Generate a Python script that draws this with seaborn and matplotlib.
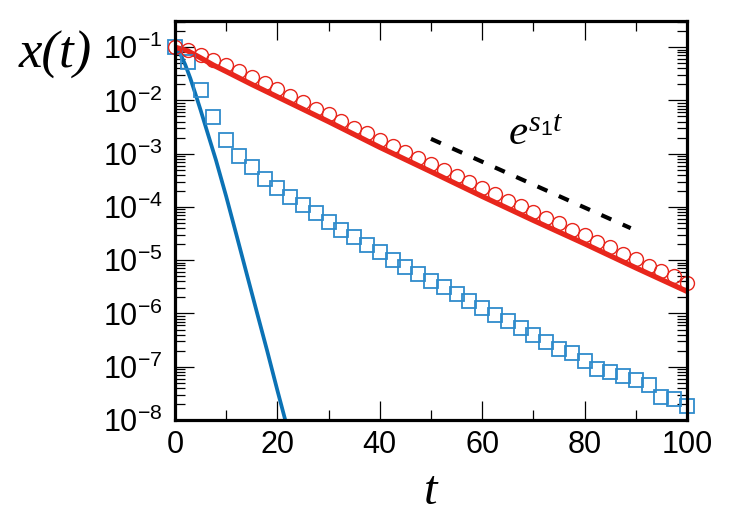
import numpy as np
import pandas as pd
import matplotlib
matplotlib.use("Agg")
import matplotlib.pyplot as plt
from matplotlib.ticker import MultipleLocator, LogLocator
import seaborn as sns

# ----------------------------------
# Data
# ----------------------------------

t_markers = [0, 2.5, 5, 7.5, 10, 12.5, 15, 17.5, 20, 22.5, 25, 27.5, 30, 32.5,
             35, 37.5, 40, 42.5, 45, 47.5, 50, 52.5, 55, 57.5, 60, 62.5, 65,
             67.5, 70, 72.5, 75, 77.5, 80, 82.5, 85, 87.5, 90, 92.5, 95, 97.5, 100]

circles = [1.0e-1, 8.9e-2, 7.2e-2, 5.8e-2, 4.7e-2, 3.5e-2, 2.75e-2, 2.1e-2,
           1.62e-2, 1.23e-2, 9.3e-3, 6.9e-3, 5.5e-3, 4.1e-3, 3.1e-3, 2.4e-3,
           1.82e-3, 1.41e-3, 1.07e-3, 8.3e-4, 6.3e-4, 5.0e-4, 3.8e-4, 2.9e-4,
           2.24e-4, 1.74e-4, 1.32e-4, 1.02e-4, 7.9e-5, 6.2e-5, 4.9e-5, 3.7e-5,
           2.95e-5, 2.24e-5, 1.78e-5, 1.32e-5, 1.05e-5, 7.9e-6, 6.3e-6, 5.0e-6,
           3.7e-6]

squares = [1.0e-1, 5.2e-2, 1.58e-2, 4.8e-3, 1.82e-3, 9.1e-4, 5.6e-4, 3.4e-4,
           2.24e-4, 1.55e-4, 1.10e-4, 7.6e-5, 5.2e-5, 3.7e-5, 2.7e-5, 1.95e-5,
           1.45e-5, 1.02e-5, 7.6e-6, 5.6e-6, 4.1e-6, 3.1e-6, 2.34e-6, 1.70e-6,
           1.26e-6, 9.5e-7, 7.1e-7, 5.4e-7, 3.9e-7, 2.9e-7, 2.2e-7, 1.78e-7,
           1.26e-7, 8.9e-8, 7.8e-8, 6.8e-8, 5.6e-8, 4.5e-8, 2.7e-8, 2.5e-8,
           1.82e-8]

t_red = [0, 2.5, 5, 7.5, 10, 15, 20, 30, 40, 50, 60, 70, 80, 90, 100]
red_line = [1.0e-1, 8.5e-2, 6.3e-2, 4.6e-2, 3.5e-2, 2.0e-2, 1.17e-2, 4.0e-3,
            1.32e-3, 4.6e-4, 1.58e-4, 5.6e-5, 2.04e-5, 7.2e-6, 2.6e-6]

t_blue = [0, 1, 2, 3, 4, 5, 6, 8, 10, 12, 14, 16, 18, 20, 22]
blue_line = [1.0e-1, 7.6e-2, 4.7e-2, 2.6e-2, 1.32e-2, 6.6e-3, 3.2e-3, 7.6e-4,
             1.58e-4, 3.0e-5, 5.6e-6, 1.05e-6, 2.0e-7, 3.6e-8, 6.8e-9]

t_guide = [50, 89]
guide = [1.9e-3, 4.0e-5]

# ----------------------------------
# Style
# ----------------------------------

sns.set_style("ticks")
plt.rcParams["font.family"] = ["Liberation Sans", "DejaVu Sans"]
plt.rcParams["mathtext.fontset"] = "custom"
plt.rcParams["mathtext.rm"] = "Liberation Sans"
plt.rcParams["mathtext.it"] = "Liberation Serif:italic"

RED = "#e8261c"
BLUE_LINE = "#0b72b5"
BLUE_SQ = "#2f8bcc"

fig = plt.figure(figsize=(7.5, 5.25), dpi=100)
ax = fig.add_axes([0.2333, 0.2, 0.6827, 0.76])

# ----------------------------------
# Plot
# ----------------------------------

sns.lineplot(x=t_blue, y=blue_line, ax=ax, color=BLUE_LINE,
             linewidth=2.7, estimator=None, sort=False)

sns.lineplot(x=t_red, y=red_line, ax=ax, color=RED,
             linewidth=3.8, estimator=None, sort=False)

sns.lineplot(x=t_markers, y=squares, ax=ax, linestyle="", marker="s",
             markersize=9.8, markerfacecolor="none", markeredgecolor=BLUE_SQ,
             markeredgewidth=1.3, estimator=None, sort=False, clip_on=False)

sns.lineplot(x=t_markers, y=circles, ax=ax, linestyle="", marker="o",
             markersize=10, markerfacecolor="none", markeredgecolor=RED,
             markeredgewidth=1.0, estimator=None, sort=False, clip_on=False)

sns.lineplot(x=t_guide, y=guide, ax=ax, color="black", linewidth=3.0,
             estimator=None, sort=False, dashes=False)
ax.lines[-1].set_dashes([2.6, 3.0])

ax.text(65, 1.45e-3, r"$e^{s_{\mathit{1}}t}$", fontsize=31,
        ha="left", va="baseline", color="black")

# ----------------------------------
# Axes
# ----------------------------------

ax.set_yscale("log")
ax.set_xlim(0, 100)
ax.set_ylim(1e-8, 0.31)

ax.xaxis.set_major_locator(MultipleLocator(20))
ax.xaxis.set_minor_locator(MultipleLocator(10))
ax.yaxis.set_major_locator(LogLocator(base=10, numticks=20))
ax.yaxis.set_minor_locator(LogLocator(base=10, subs=np.arange(2, 10), numticks=20))

ax.tick_params(which="both", direction="in", top=True, right=True,
               width=0.9, colors="black")
ax.tick_params(which="major", length=14, labelsize=22)
ax.tick_params(axis="x", which="major", pad=7)
ax.tick_params(axis="y", which="major", pad=9)
ax.tick_params(which="minor", length=7)

for spine in ax.spines.values():
    spine.set_linewidth(2.3)
    spine.set_color("black")

ax.set_xlabel("t", fontsize=35, family="Liberation Serif", style="italic",
              color="black")
ax.xaxis.set_label_coords(0.5, -0.125)
ax.xaxis.label.set_va("top")

ax.set_ylabel("x(t)", fontsize=38, family="Liberation Serif", style="italic",
              rotation=0, ha="center", va="center", color="black")
ax.yaxis.set_label_coords(-0.234, 0.915)

fig.savefig("out.png", dpi=100)
